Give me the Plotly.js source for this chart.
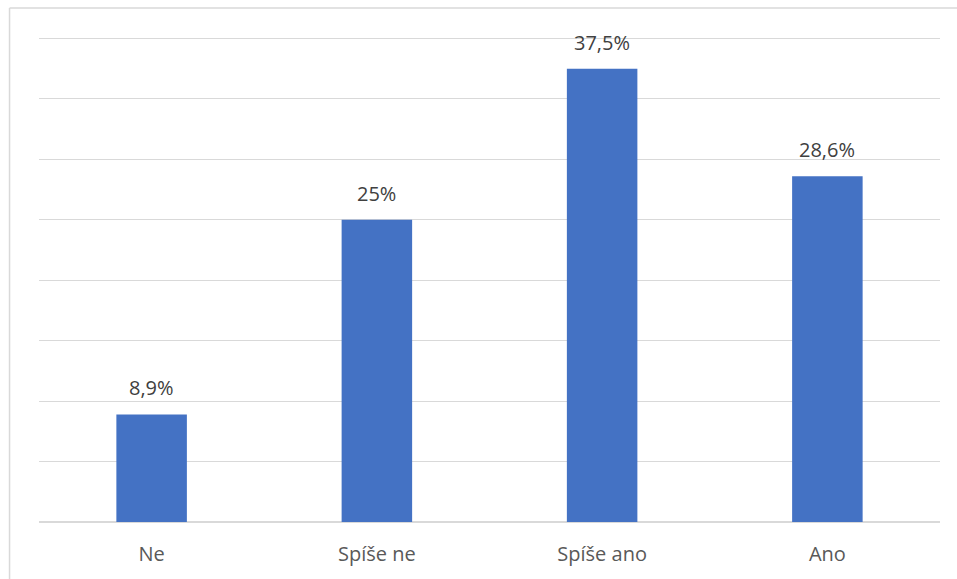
<!DOCTYPE html>
<html>
<head>
<meta charset="utf-8">
<script src="https://cdn.plot.ly/plotly-3.0.1.min.js"></script>
<style>
html,body{margin:0;padding:0;background:#fff;}
#chart{width:957px;height:579px;}
</style>
</head>
<body>
<div id="chart"></div>
<script>
const categories = ["Ne", "Spíše ne", "Spíše ano", "Ano"];
const values = [8.9, 25, 37.5, 28.6];
const labels = values.map(v => String(v).replace('.', ',') + '%');

const FONT = '"Open Sans", "Noto Sans", sans-serif';

const trace = {
  type: 'bar',
  x: categories,
  y: values,
  marker: {color: '#4472C4'},
  width: 0.313,
  hoverinfo: 'none'
};

const annotations = categories.map((c, i) => ({
  x: c, y: values[i], xref: 'x', yref: 'y',
  text: labels[i], showarrow: false,
  yanchor: 'bottom', yshift: 11,
  font: {family: FONT, size: 20, color: '#404040'}
}));

const layout = {
  width: 957, height: 579,
  margin: {l: 39, r: 17, t: 36, b: 57},
  paper_bgcolor: '#ffffff',
  plot_bgcolor: '#ffffff',
  showlegend: false,
  xaxis: {
    type: 'category',
    showgrid: false, zeroline: false, showline: false,
    ticks: '', ticklabelstandoff: 18,
    tickfont: {family: FONT, size: 20, color: '#595959'}
  },
  yaxis: {
    range: [0, 40.2], dtick: 5, tick0: 0,
    showticklabels: false, ticks: '',
    showgrid: true, gridcolor: '#d9d9d9', gridwidth: 1.2,
    zeroline: true, zerolinecolor: '#d9d9d9', zerolinewidth: 1.2,
    showline: false, fixedrange: true
  },
  annotations: annotations,
  shapes: [
    {type: 'line', xref: 'paper', yref: 'paper', x0: -0.0327, x1: -0.0327, y0: 1.0576, y1: -0.2,
     line: {color: '#d9d9d9', width: 1.5}},
    {type: 'line', xref: 'paper', yref: 'paper', x0: -0.0327, x1: 1.05, y0: 1.0576, y1: 1.0576,
     line: {color: '#d9d9d9', width: 1.5}}
  ]
};

Plotly.newPlot('chart', [trace], layout, {staticPlot: true, displayModeBar: false});
</script>
</body>
</html>
